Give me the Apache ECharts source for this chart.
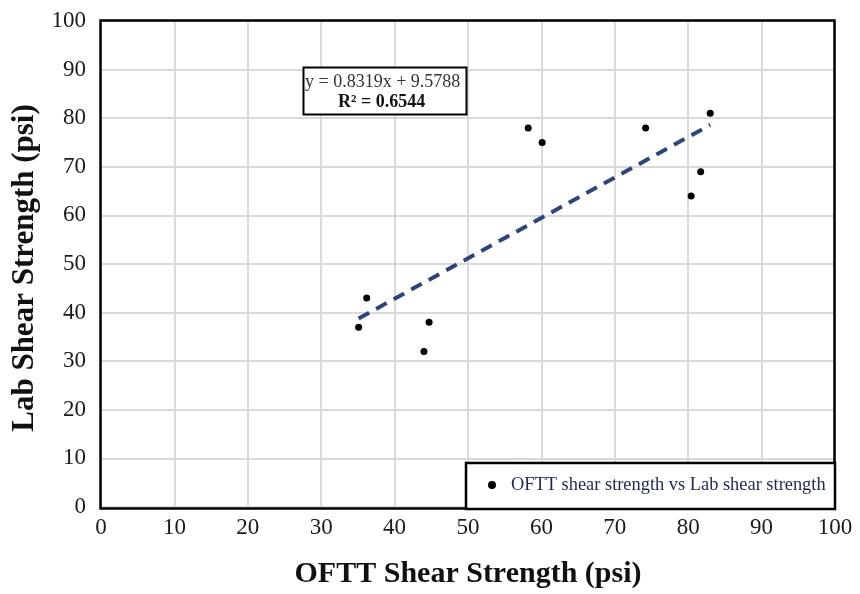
<!DOCTYPE html>
<html>
<head>
<meta charset="utf-8">
<script src="https://cdn.jsdelivr.net/npm/echarts@6/dist/echarts.min.js"></script>
<style>html,body{margin:0;padding:0;background:#fff;}#c{width:860px;height:594px;}</style>
</head>
<body>
<div id="c"></div>
<script>
// Data
var ofttShear = [35.1, 36.2, 44.0, 44.7, 58.2, 60.1, 74.2, 80.4, 81.7, 83.0];
var labShear  = [37.0, 43.0, 32.0, 38.0, 78.0, 75.0, 78.0, 64.0, 69.0, 81.0];
var trendSlope = 0.8319;
var trendIntercept = 9.5788;
var trendRangeX = [35.1, 83.0];
var eqText = "y = 0.8319x + 9.5788";
var r2Text = "R² = 0.6544";
var seriesName = "OFTT shear strength vs Lab shear strength";
var xTitle = "OFTT Shear Strength (psi)";
var yTitle = "Lab Shear Strength (psi)";

var points = ofttShear.map(function (x, i) { return [x, labShear[i]]; });
var trend = trendRangeX.map(function (x) { return [x, trendSlope * x + trendIntercept]; });

var serif = "'Liberation Serif', 'DejaVu Serif', serif";
var chart = echarts.init(document.getElementById('c'));
chart.setOption({
  animation: false,
  backgroundColor: '#fff',
  grid: { left: 101, right: 25, top: 21, bottom: 85, show: false },
  xAxis: {
    type: 'value', min: 0, max: 100, interval: 10,
    name: xTitle, nameLocation: 'middle', nameGap: 52,
    nameTextStyle: { fontFamily: serif, fontWeight: 'bold', fontSize: 30, color: '#111' },
    axisLine: { show: false }, axisTick: { show: false },
    axisLabel: { fontFamily: serif, fontSize: 23, color: '#1a1a1a', margin: 9 },
    splitLine: { show: true, lineStyle: { color: '#dadada', width: 2 } }
  },
  yAxis: {
    type: 'value', min: 0, max: 100, interval: 10,
    name: yTitle, nameLocation: 'middle', nameGap: 58,
    nameTextStyle: { fontFamily: serif, fontWeight: 'bold', fontSize: 31, color: '#111', padding: [0, 8, 0, 0] },
    axisLine: { show: false }, axisTick: { show: false },
    axisLabel: { fontFamily: serif, fontSize: 23, color: '#1a1a1a', margin: 15 },
    splitLine: { show: true, lineStyle: { color: '#dadada', width: 2 } }
  },
  legend: {
    show: true, left: 488, top: 476, padding: 0, itemWidth: 8, itemHeight: 8,
    icon: 'circle', z: 30,
    data: [{ name: seriesName, itemStyle: { color: '#000', opacity: 1 } }],
    textStyle: { fontFamily: serif, fontSize: 18.4, color: '#1f2a4a', padding: [0, 0, 0, 10] }
  },
  graphic: [
    { type: 'rect', shape: { x: 100.5, y: 20.5, width: 734, height: 488 }, style: { fill: 'none', stroke: '#000', lineWidth: 2.5 }, z: 20 },
    { type: 'rect', shape: { x: 466, y: 463, width: 369, height: 46 }, style: { fill: '#fff', stroke: '#000', lineWidth: 2.5 }, z: 21 },
    { type: 'rect', shape: { x: 303.5, y: 67.5, width: 163, height: 47 }, style: { fill: '#fff', stroke: '#000', lineWidth: 2 }, z: 21 },
    { type: 'text', left: 305, top: 73, style: { text: eqText, font: '18px ' + serif, fill: '#333' }, z: 22 },
    { type: 'text', left: 338, top: 93, style: { text: r2Text, font: 'bold 18px ' + serif, fill: '#111' }, z: 22 }
  ],
  series: [
    {
      name: seriesName, type: 'scatter', data: points, symbol: 'circle', symbolSize: 7,
      itemStyle: { color: '#000', opacity: 1 }, z: 4
    },
    {
      name: 'trend', type: 'line', data: trend, symbol: 'none', silent: true,
      lineStyle: { color: '#2e4579', width: 4, type: [12, 8] }, z: 3
    }
  ]
});
</script>
</body>
</html>
